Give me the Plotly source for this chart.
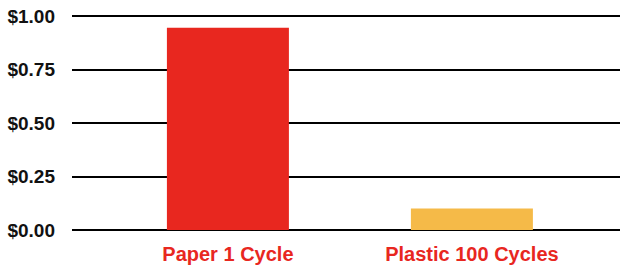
import plotly.graph_objects as go

categories = ["Paper 1 Cycle", "Plastic 100 Cycles"]
values = [0.945, 0.10]
bar_colors = ["#E8271F", "#F5BA48"]
y_ticks = [0.0, 0.25, 0.5, 0.75, 1.0]
y_tick_labels = ["$0.00", "$0.25", "$0.50", "$0.75", "$1.00"]

fig = go.Figure(go.Bar(
    x=categories, y=values, marker_color=bar_colors, marker_line_width=0, width=0.5,
    hoverinfo="skip",
))

fig.update_layout(
    width=620, height=268,
    margin=dict(l=72, r=0, t=15, b=38),
    paper_bgcolor="white", plot_bgcolor="white",
    showlegend=False,
    font=dict(family="Liberation Sans, Arial, sans-serif"),
)
fig.update_xaxes(
    range=[-0.639, 1.607], showgrid=False, showline=False, ticks="",
    tickfont=dict(size=20, color="#E8271F", weight="bold"),
    ticklabelstandoff=10,
)
fig.update_yaxes(
    range=[0, 1.0047], tickvals=y_ticks, ticktext=y_tick_labels,
    showgrid=True, gridcolor="black", gridwidth=1.5,
    zeroline=True, zerolinecolor="black", zerolinewidth=2,
    tickfont=dict(size=19, color="#111111", weight="bold"),
    ticklabelstandoff=16, showline=False,
)

fig.write_html(
    "out.html",
    config={"displayModeBar": False},
    post_script="document.body.style.margin='0';",
)
